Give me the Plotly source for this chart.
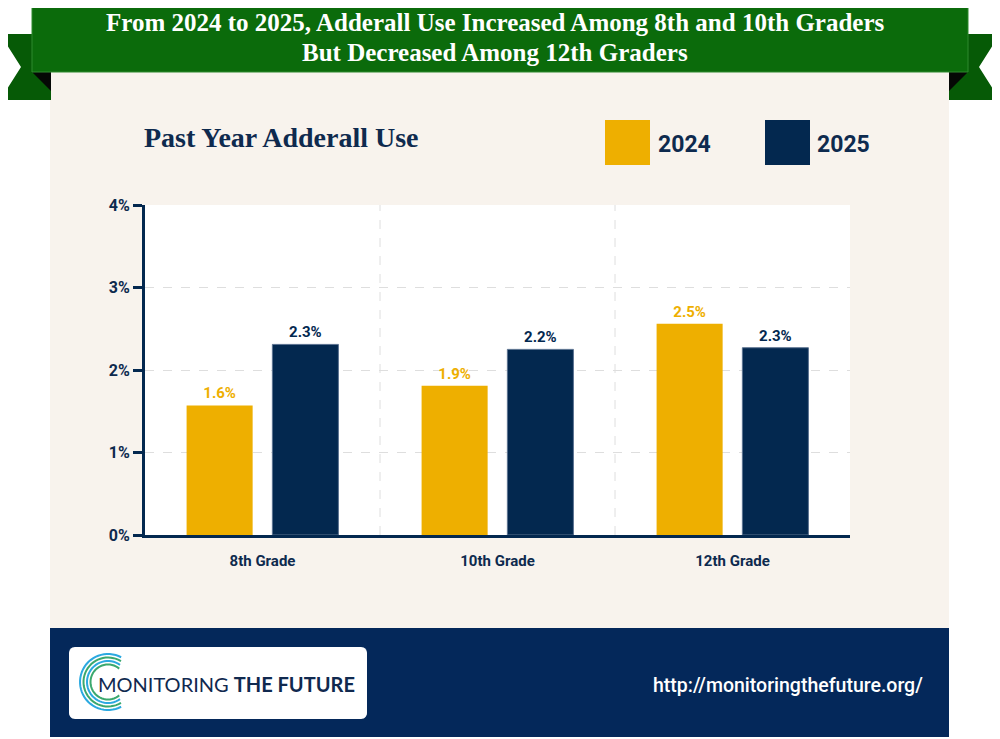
import numpy as np
import plotly.graph_objects as go

# data
grades = ["8th Grade", "10th Grade", "12th Grade"]
use_2024 = [1.57, 1.81, 2.56]
use_2025 = [2.31, 2.25, 2.27]
labels_2024 = ["1.6%", "1.9%", "2.5%"]
labels_2025 = ["2.3%", "2.2%", "2.3%"]
y_ticks = [0, 1, 2, 3, 4]
y_tick_text = ["0%", "1%", "2%", "3%", "4%"]

YELLOW = "#EEAF00"
NAVY = "#03284F"
TEXT_NAVY = "#0E2A4E"
BEIGE = "#F8F3ED"
GREEN = "#0B6B0B"
GREEN_DARK = "#065A06"

# the page body has an 8px margin, so everything is placed in page pixels
# and shifted back by that margin
OFF = 8
L, R, T, B = 145, 850, 205, 535
W_PX, H_PX = 1000 - OFF, 739 - OFF


def px_x(x):
    return (x - L) / (R - L)


def px_y(y):
    return (B - y) / (B - T)


def poly(points):
    pts = [f"{px_x(x):.5f},{px_y(y):.5f}" for x, y in points]
    return "M " + " L ".join(pts) + " Z"


def rect(x0, y0, x1, y1, color, layer="below"):
    return dict(type="rect", xref="paper", yref="paper",
                x0=px_x(x0), x1=px_x(x1), y0=px_y(y1), y1=px_y(y0),
                fillcolor=color, line=dict(width=0), layer=layer)


def rounded(x0, y0, x1, y1, r):
    pts = []
    for cx, cy, a0 in [(x1 - r, y0 + r, -90), (x1 - r, y1 - r, 0),
                       (x0 + r, y1 - r, 90), (x0 + r, y0 + r, 180)]:
        for a in np.linspace(a0, a0 + 90, 8):
            t = np.radians(a)
            pts.append((cx + r * np.cos(t), cy + r * np.sin(t)))
    return poly(pts)


def arc(cx, cy, r, a0, a1):
    pts = []
    for a in np.linspace(a0, a1, 40):
        t = np.radians(a)
        pts.append(f"{px_x(cx + r * np.cos(t)):.5f},{px_y(cy - r * np.sin(t)):.5f}")
    return "M " + " L ".join(pts)


fig = go.Figure()
fig.add_trace(go.Bar(x=grades, y=use_2024, name="2024", marker_color=YELLOW,
                     marker_line=dict(width=0),
                     text=labels_2024, textposition="outside",
                     textfont=dict(family="Roboto", size=15, color=YELLOW, weight=700)))
fig.add_trace(go.Bar(x=grades, y=use_2025, name="2025", marker_color=NAVY,
                     marker_line=dict(width=1, color="#5B7290"),
                     text=labels_2025, textposition="outside",
                     textfont=dict(family="Roboto", size=15, color=NAVY, weight=700)))

shapes = [
    # card + footer
    rect(50, 60, 949, 628, BEIGE),
    rect(L, T, R, B, "white"),
    rect(50, 628, 949, 737, "#04285A"),
    dict(type="path", xref="paper", yref="paper", path=rounded(69, 647, 367, 719, 6),
         fillcolor="white", line=dict(width=0), layer="below"),
    # ribbon tails
    dict(type="path", xref="paper", yref="paper",
         path=poly([(0, 34), (51, 34), (51, 100), (0, 100), (21, 67)]),
         fillcolor=GREEN_DARK, line=dict(width=0), layer="below"),
    dict(type="path", xref="paper", yref="paper",
         path=poly([(949, 34), (1000, 34), (979, 67), (1000, 100), (949, 100)]),
         fillcolor=GREEN_DARK, line=dict(width=0), layer="below"),
    dict(type="path", xref="paper", yref="paper",
         path=poly([(32, 72), (51, 72), (51, 91)]),
         fillcolor="#050805", line=dict(width=0), layer="below"),
    dict(type="path", xref="paper", yref="paper",
         path=poly([(949, 72), (968, 72), (949, 91)]),
         fillcolor="#050805", line=dict(width=0), layer="below"),
    # main banner
    dict(type="rect", xref="paper", yref="paper",
         x0=px_x(32), x1=px_x(968), y0=px_y(72), y1=px_y(0),
         fillcolor=GREEN, line=dict(width=1, color="#2E8A2E"), layer="below"),
    # legend boxes
    rect(605, 120, 650, 165, YELLOW),
    rect(765, 120, 810, 165, NAVY),
]

# category separators
for xs in [0.5, 1.5]:
    shapes.append(dict(type="line", xref="x", yref="y", x0=xs, x1=xs, y0=0, y1=4,
                       line=dict(color="#DEDEDE", width=1, dash="dash"), layer="below"))

# logo arcs
for r, col, a0, a1 in [(28, "#2BA9E0", 62, 298), (24.5, "#3BA86E", 58, 302),
                       (21, "#2BA9E0", 55, 305), (17.5, "#3BA86E", 50, 310)]:
    shapes.append(dict(type="path", xref="paper", yref="paper", path=arc(108, 682, r, a0, a1),
                       line=dict(color=col, width=2), layer="above"))

annotations = [
    dict(text="From 2024 to 2025, Adderall Use Increased Among 8th and 10th Graders",
         x=px_x(495), y=px_y(22)),
    dict(text="But Decreased Among 12th Graders", x=px_x(495), y=px_y(52)),
]
for a in annotations:
    a.update(xref="paper", yref="paper", showarrow=False, xanchor="center", yanchor="middle",
             font=dict(family="Liberation Serif", size=25, color="white", weight=700))

annotations += [
    dict(text="Past Year Adderall Use", x=px_x(142), y=px_y(138), xanchor="left",
         font=dict(family="Liberation Serif", size=28, color=TEXT_NAVY, weight=700)),
    dict(text="2024", x=px_x(656), y=px_y(145), xanchor="left",
         font=dict(family="Roboto", size=23, color=TEXT_NAVY, weight=700)),
    dict(text="2025", x=px_x(815), y=px_y(145), xanchor="left",
         font=dict(family="Roboto", size=23, color=TEXT_NAVY, weight=700)),
    dict(text="MONITORING <b>THE FUTURE</b>", x=px_x(96), y=px_y(684), xanchor="left",
         font=dict(family="Lato", size=20, color="#10294F", weight=400)),
    dict(text="http://monitoringthefuture.org/", x=px_x(651), y=px_y(685), xanchor="left",
         font=dict(family="Roboto", size=19.5, color="white", weight=500)),
]
for a in annotations[2:]:
    a.update(xref="paper", yref="paper", showarrow=False, yanchor="middle")

fig.update_layout(
    width=W_PX, height=H_PX,
    margin=dict(l=L - OFF, r=1000 - R, t=T - OFF, b=739 - B, pad=0),
    paper_bgcolor="white",
    plot_bgcolor="rgba(0,0,0,0)",
    barmode="group", bargap=0.27, bargroupgap=0.23,
    showlegend=False,
    shapes=shapes,
    annotations=annotations,
    font=dict(family="Roboto", color=TEXT_NAVY),
    xaxis=dict(showgrid=False, showline=True, linecolor=NAVY, linewidth=3,
               ticks="", ticklabelstandoff=10,
               tickfont=dict(family="Roboto", size=15, color=TEXT_NAVY, weight=700)),
    yaxis=dict(range=[0, 4], tickvals=y_ticks, ticktext=y_tick_text,
               showgrid=True, gridcolor="#DEDEDE", griddash="dash", gridwidth=1,
               zeroline=False, showline=True, linecolor=NAVY, linewidth=3,
               ticks="outside", ticklen=9, tickwidth=3, tickcolor=NAVY,
               tickfont=dict(family="Roboto", size=16, color=TEXT_NAVY, weight=700)),
)

fig.write_html("out.html")
